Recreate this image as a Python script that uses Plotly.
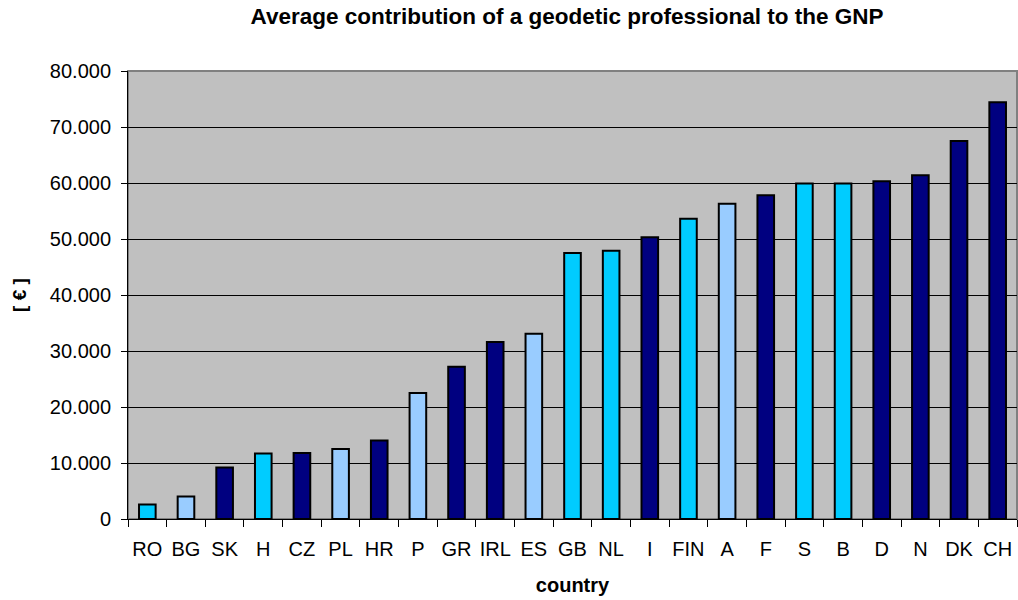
import plotly.graph_objects as go

countries = ["RO", "BG", "SK", "H", "CZ", "PL", "HR", "P", "GR", "IRL", "ES", "GB",
             "NL", "I", "FIN", "A", "F", "S", "B", "D", "N", "DK", "CH"]
values = [2600, 4000, 9200, 11700, 11800, 12500, 14000, 22500, 27200, 31600, 33100, 47500,
          47900, 50300, 53600, 56300, 57800, 59900, 59900, 60300, 61400, 67500, 74400]
groups = ["c", "l", "n", "c", "n", "l", "n", "l", "n", "n", "l", "c",
          "c", "n", "c", "l", "n", "c", "c", "n", "n", "n", "n"]
palette = {"c": "#00CCFF", "l": "#99CCFF", "n": "#000080"}
colors = [palette[g] for g in groups]

font = "Liberation Sans, Arial, sans-serif"

fig = go.Figure(go.Bar(
    x=countries, y=values,
    marker=dict(color=colors, line=dict(color="#000000", width=2)),
    width=0.43,
))

fig.update_layout(
    width=1018, height=600,
    margin=dict(l=128, r=1, t=71, b=81),
    paper_bgcolor="white", plot_bgcolor="#C0C0C0",
    separators=",.",
    showlegend=False,
    font=dict(family=font, size=20, color="black"),
    title=dict(text="<b>Average contribution of a geodetic professional to the GNP</b>",
               x=0.557, xanchor="center", y=0.973, yanchor="middle",
               font=dict(size=22.5, family=font)),
)
fig.update_xaxes(
    type="category", tickson="boundaries", ticks="outside", ticklen=7,
    tickcolor="black", showline=True, linecolor="black", linewidth=1,
    mirror=False, showgrid=False, tickangle=0, automargin=False,
    ticklabelstandoff=12,
    title=dict(text="<b>country</b>", font=dict(size=20), standoff=18),
    tickfont=dict(size=20),
)
fig.update_yaxes(
    range=[0, 80000], dtick=10000, tickformat=",d",
    ticks="outside", ticklen=6, tickcolor="black",
    showline=True, linecolor="black", linewidth=1,
    gridcolor="#000000", gridwidth=1, zeroline=False, automargin=False,
    ticklabelstandoff=6,
    title=dict(text="<b>[ € ]</b>", font=dict(size=19), standoff=18),
    tickfont=dict(size=20),
)
# gray frame around plot area
fig.add_shape(type="rect", xref="paper", yref="paper", x0=0, y0=0, x1=1, y1=1,
              line=dict(color="#808080", width=2), layer="below")

fig.write_html("out.html", config={"displayModeBar": False},
               post_script="document.body.style.margin='0';document.body.style.overflow='hidden';")
